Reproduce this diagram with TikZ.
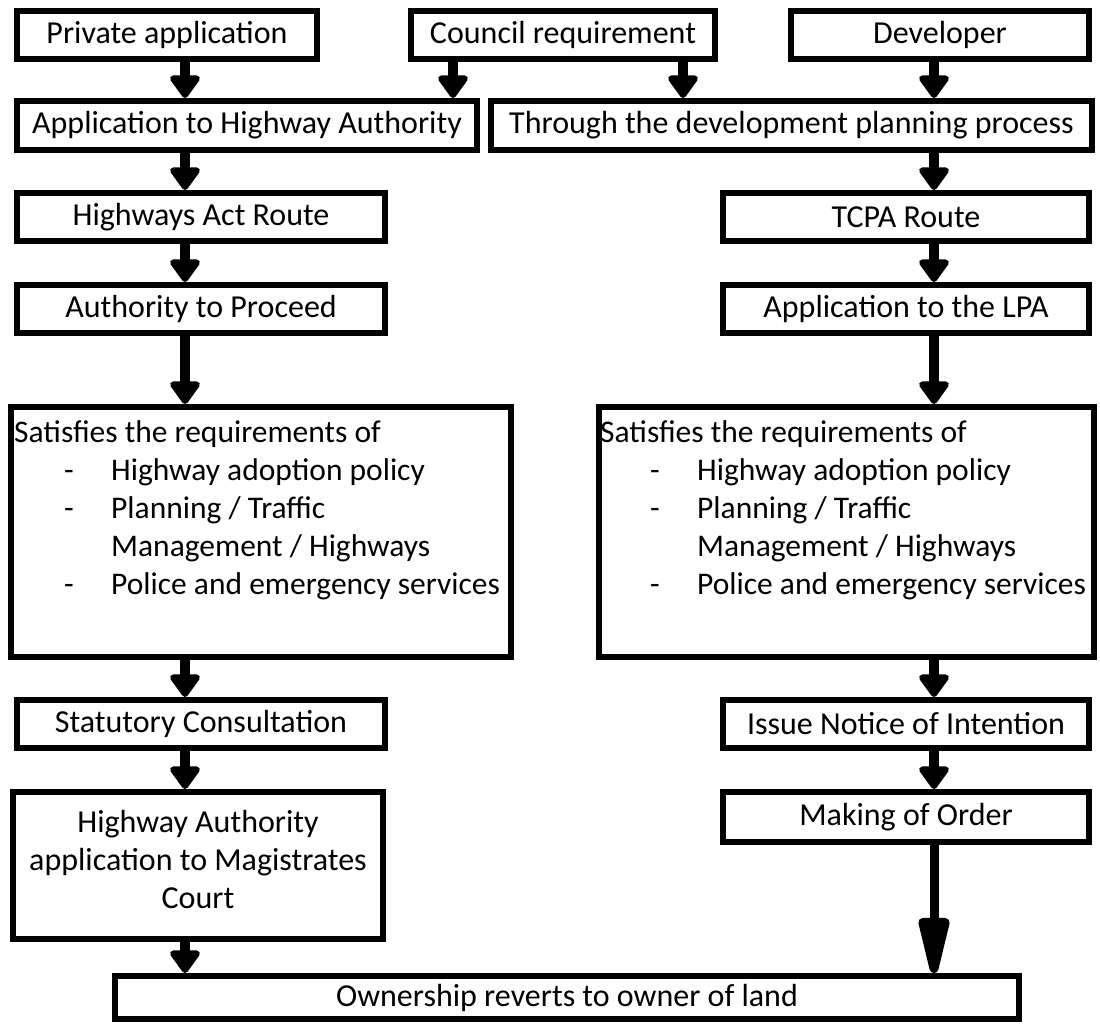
\documentclass[tikz,border=0pt]{standalone}
\usepackage{fontspec}
\setmainfont{Carlito}
\usetikzlibrary{arrows.meta}
\begin{document}
\begin{tikzpicture}[x=1pt,y=-1pt,
  box/.style={draw, line width=6pt, inner sep=0pt, font=\fontsize{32}{38}\selectfont, align=center},
  sattext/.style={inner sep=0pt, anchor=north west, align=left, font=\fontsize{31.5}{38}\selectfont},
  arr/.style={line width=9.5pt, -{Triangle[length=25pt,width=34pt,round]}},
  longarr/.style={line width=9pt, -{Triangle[length=72pt,width=31pt,round]}},
]
\useasboundingbox (0,0) rectangle (1100,1025);
\fill[white] (0,0) rectangle (1100,1025);
\coordinate (cL) at (185,0);
\coordinate (cA) at (453,0);
\coordinate (cB) at (683,0);
\coordinate (cR) at (934,0);

\node[box, minimum width=300pt, minimum height=48pt] (priv) at (167,35) {Private application};
\node[box, minimum width=304pt, minimum height=48pt] (coun) at (563,35) {Council requirement};
\node[box, minimum width=298pt, minimum height=48pt] (dev) at (940,35) {Developer};

\node[box, minimum width=460pt, minimum height=49pt] (app) at (247,125.5) {Application to Highway Authority};
\node[box, minimum width=601pt, minimum height=49pt] (thr) at (791.5,125.5) {Through the development planning process};

\node[box, minimum width=368pt, minimum height=48pt] (har) at (201,217) {Highways Act Route};
\node[box, minimum width=366pt, minimum height=48pt] (tcpa) at (906,217) {TCPA Route};

\node[box, minimum width=368pt, minimum height=48pt] (auth) at (201,309) {Authority to Proceed};
\node[box, minimum width=366pt, minimum height=48pt] (lpa) at (906,309) {Application to the LPA};

\node[box, minimum width=500pt, minimum height=250pt] (satL) at (261,532) {};
\node[box, minimum width=495pt, minimum height=250pt] (satR) at (846.5,532) {};
\node[sattext] (satLt) at (14,420) {Satisfies the requirements of\\
\hspace*{50pt}\makebox[47pt][l]{-}Highway adoption policy\\
\hspace*{50pt}\makebox[47pt][l]{-}Planning / Traffic\\
\hspace*{97pt}Management / Highways\\
\hspace*{50pt}\makebox[47pt][l]{-}Police and emergency services};
\node[sattext] (satRt) at (600,420) {Satisfies the requirements of\\
\hspace*{50pt}\makebox[47pt][l]{-}Highway adoption policy\\
\hspace*{50pt}\makebox[47pt][l]{-}Planning / Traffic\\
\hspace*{97pt}Management / Highways\\
\hspace*{50pt}\makebox[47pt][l]{-}Police and emergency services};

\node[box, minimum width=368pt, minimum height=48pt] (stat) at (201,724) {Statutory Consultation};
\node[box, minimum width=366pt, minimum height=48pt] (notice) at (906,724) {Issue Notice of Intention};

\node[box, minimum width=370pt, minimum height=147pt] (mag) at (198,865.5) {Highway Authority\\application to Magistrates\\Court\rule[-12pt]{0pt}{0pt}};
\node[box, minimum width=366pt, minimum height=50pt] (order) at (906,817) {Making of Order};

\node[box, minimum width=904pt, minimum height=43pt] (own) at (567,997.5) {Ownership reverts to owner of land};

\draw[arr] (priv.south -| cL) -- (app.north -| cL);
\draw[arr] (coun.south -| cA) -- (app.north -| cA);
\draw[arr] (coun.south -| cB) -- (thr.north -| cB);
\draw[arr] (dev.south -| cR) -- (thr.north -| cR);
\draw[arr] (app.south -| cL) -- (har.north -| cL);
\draw[arr] (thr.south -| cR) -- (tcpa.north -| cR);
\draw[arr] (har.south -| cL) -- (auth.north -| cL);
\draw[arr] (tcpa.south -| cR) -- (lpa.north -| cR);
\draw[arr] (auth.south -| cL) -- (satL.north -| cL);
\draw[arr] (lpa.south -| cR) -- (satR.north -| cR);
\draw[arr] (satL.south -| cL) -- (stat.north -| cL);
\draw[arr] (satR.south -| cR) -- (notice.north -| cR);
\draw[arr] (stat.south -| cL) -- (mag.north -| cL);
\draw[arr] (notice.south -| cR) -- (order.north -| cR);
\draw[arr] (mag.south -| cL) -- (own.north -| cL);
\draw[longarr] (order.south -| cR) -- (own.north -| cR);
\end{tikzpicture}
\end{document}
